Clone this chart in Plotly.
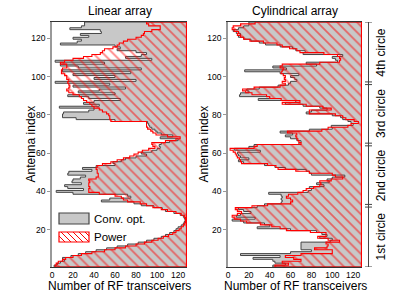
import plotly.graph_objects as go

# ---------------- data ----------------
antenna_index = list(range(1, 129))
n_rf_max = 128

# Linear array: left edge (number of RF transceivers) of each antenna's bar
lin_power = [
    3, 4, 6, 10, 13, 20, 28, 38, 50, 60, 70, 80, 88, 95, 101, 106,
    111, 115, 118, 121, 123, 125, 126, 127, 127, 127, 126, 123, 118, 110, 104, 96,
    90, 84, 72, 68, 66, 60, 45, 35, 35, 36, 35, 35, 36, 35, 42, 44,
    44, 43, 43, 42, 43, 48, 56, 62, 68, 74, 78, 82, 86, 92, 98, 96,
    95, 108, 118, 122, 110, 99, 96, 94, 91, 90, 90, 90, 56, 55, 55, 54,
    52, 48, 45, 40, 38, 36, 33, 30, 28, 26, 20, 16, 14, 16, 17, 16,
    15, 16, 14, 14, 12, 9, 9, 10, 14, 14, 8, 12, 20, 30, 38, 46,
    48, 50, 58, 62, 64, 68, 72, 80, 85, 87, 88, 95, 103, 103, 92, 90,
]
lin_conv = [
    2, 5, 8, 12, 10, 18, 25, 32, 42, 52, 62, 72, 82, 90, 97, 104,
    108, 112, 116, 118, 120, 123, 125, 126, 127, 126, 125, 122, 116, 108, 105, 97,
    85, 78, 47, 55, 75, 72, 20, 4, 30, 15, 12, 28, 19, 20, 27, 32,
    15, 16, 38, 29, 42, 60, 58, 66, 70, 80, 90, 85, 95, 100, 103, 102,
    104, 112, 120, 103, 115, 104, 100, 98, 95, 93, 92, 91, 60, 23, 10, 10,
    11, 35, 40, 7, 45, 30, 40, 65, 35, 15, 60, 25, 45, 70, 20, 55,
    3, 80, 40, 60, 20, 75, 10, 85, 25, 8, 50, 3, 95, 70, 85, 90,
    80, 62, 65, 60, 8, 24, 28, 20, 35, 27, 47, 46, 17, 28, 31, 31,
]

# Cylindrical array
cyl_power = [
    45, 58, 52, 70, 63, 55, 70, 100, 100, 83, 95, 96, 94, 107, 96, 86,
    94, 94, 79, 56, 50, 42, 31, 18, 12, 6, 4, 9, 13, 9, 7, 23,
    38, 60, 62, 60, 56, 58, 67, 72, 75, 82, 88, 89, 88, 99, 110, 103,
    100, 78, 65, 48, 46, 38, 13, 12, 11, 9, 8, 7, 5, 2, 25, 28,
    70, 68, 67, 66, 65, 66, 57, 90, 96, 115, 118, 125, 121, 113, 110, 103,
    78, 78, 99, 91, 75, 52, 69, 51, 40, 37, 23, 17, 14, 25, 50, 55,
    52, 55, 54, 55, 53, 51, 52, 53, 50, 52, 88, 107, 108, 107, 105, 92,
    69, 66, 59, 52, 47, 34, 21, 15, 12, 9, 10, 6, 4, 5, 12, 26,
]
cyl_conv = [
    43, 55, 45, 43, 24, 50, 12, 60, 80, 70, 70, 70, 70, 98, 100, 88,
    95, 90, 85, 60, 28, 40, 35, 15, 4, 26, 8, 12, 22, 15, 10, 28,
    35, 51, 52, 51, 52, 51, 39, 77, 80, 78, 92, 85, 97, 95, 100, 112,
    80, 78, 75, 55, 45, 35, 15, 10, 20, 12, 10, 9, 31, 6, 20, 25,
    68, 70, 66, 60, 55, 62, 50, 78, 100, 99, 120, 118, 115, 110, 108, 100,
    75, 80, 95, 88, 72, 55, 65, 29, 40, 11, 12, 20, 18, 30, 48, 58,
    60, 66, 64, 60, 68, 50, 16, 56, 43, 85, 75, 105, 103, 100, 110, 72,
    74, 65, 62, 50, 36, 30, 22, 15, 10, 12, 8, 5, 10, 15, 20, 20,
]

x_ticks = [0, 20, 40, 60, 80, 100, 120]
y_ticks = [20, 40, 60, 80, 100, 120]
circle_edges = [0.5, 32.5, 64.5, 96.5, 128.5]
circle_labels = ["1st circle", "2nd circle", "3rd circle", "4th circle"]
subplot_titles = ["Linear array", "Cylindrical array"]
series_names = ["Conv. opt.", "Power"]

# ---------------- styles ----------------
GRAY_FILL = "#c8c8c8"
GRAY_LINE = "#454545"
RED = "#ff0000"
FONT = "Liberation Sans, Arial, sans-serif"
W, H = 399, 299


def stair(vals):
    xs, ys = [], []
    for i, v in zip(antenna_index, vals):
        xs += [v, v]
        ys += [i - 0.5, i + 0.5]
    xs += [n_rf_max, n_rf_max, vals[0]]
    ys += [antenna_index[-1] + 0.5, antenna_index[0] - 0.5, antenna_index[0] - 0.5]
    return xs, ys


fig = go.Figure()
for k, (conv, power) in enumerate([(lin_conv, lin_power), (cyl_conv, cyl_power)]):
    xa = "x" if k == 0 else "x2"
    ya = "y" if k == 0 else "y2"
    gx, gy = stair(conv)
    fig.add_trace(go.Scatter(
        x=gx, y=gy, mode="lines", fill="toself", fillcolor=GRAY_FILL,
        line=dict(color=GRAY_LINE, width=1), name=series_names[0],
        xaxis=xa, yaxis=ya, showlegend=False, hoverinfo="skip"))
    px_, py_ = stair(power)
    fig.add_trace(go.Scatter(
        x=px_, y=py_, mode="lines", fill="toself", fillcolor="rgba(0,0,0,0)",
        fillpattern=dict(shape="\\", fgcolor=RED, bgcolor="rgba(0,0,0,0)",
                         size=7, solidity=0.25),
        line=dict(color=RED, width=1.1), name=series_names[1],
        xaxis=xa, yaxis=ya, showlegend=False, hoverinfo="skip"))

# plot area in pixels
L1, R1 = 52, 187
L2, R2 = 228, 362
TOP, BOT = 22, 267
ydom = [1 - BOT / H, 1 - TOP / H]

xcommon = dict(range=[0, 128.5], tickvals=x_ticks, ticks="", showgrid=False,
               zeroline=False, showline=True, linecolor="#333333", linewidth=1,
               mirror=True, automargin=False,
               tickfont=dict(size=8.5, family=FONT, color="black"))
ycommon = dict(range=[0.5, 128.5], tickvals=y_ticks, ticks="outside", ticklen=3,
               tickcolor="#999999", tickwidth=1, showgrid=False, zeroline=False,
               showline=True, linecolor="#999999", linewidth=1.5, automargin=False,
               tickfont=dict(size=8.5, family=FONT, color="black"))

fig.update_layout(
    width=W, height=H, margin=dict(l=0, r=0, t=0, b=0, pad=0, autoexpand=False),
    plot_bgcolor="white", paper_bgcolor="white", showlegend=False,
    font=dict(family=FONT, size=12, color="black"),
    xaxis=dict(domain=[L1 / W, R1 / W], anchor="y", **xcommon),
    yaxis=dict(domain=ydom, anchor="x", **ycommon),
    xaxis2=dict(domain=[L2 / W, R2 / W], anchor="y2", **xcommon),
    yaxis2=dict(domain=ydom, anchor="x2", **ycommon),
)

ann = []
shapes = []


def text(t, x, y, size=12, angle=0, xref="paper", yref="paper", xanchor="center"):
    return dict(text=t, x=x, y=y, xref=xref, yref=yref, textangle=angle,
                xanchor=xanchor, yanchor="middle", showarrow=False,
                font=dict(size=size, family=FONT, color="black"))


for k, (l, r) in enumerate([(L1, R1), (L2, R2)]):
    cx = (l + r) / 2 / W
    ann.append(text(subplot_titles[k], cx, 1 - 11 / H))
    ann.append(text("Number of RF transceivers", cx, 1 - 286 / H))
    ax_x = 30 if k == 0 else 203
    ann.append(text("Antenna index", ax_x / W, 1 - (TOP + BOT) / 2 / H, angle=-90))

# circle bracket on the right of the cylindrical panel
bx = 368.5 / W
tx0, tx1 = 365 / W, 372 / W
shapes.append(dict(type="line", xref="paper", yref="y2", x0=bx, x1=bx,
                   y0=circle_edges[0], y1=circle_edges[-1],
                   line=dict(color="#444444", width=1)))
for e in circle_edges:
    if e in (circle_edges[0], circle_edges[-1]):
        offs = [0]
    else:
        offs = [-0.7, 0.7]
    for o in offs:
        shapes.append(dict(type="line", xref="paper", yref="y2", x0=tx0, x1=tx1,
                           y0=e + o, y1=e + o, line=dict(color="#444444", width=1)))
for lab, a, b in zip(circle_labels, circle_edges[:-1], circle_edges[1:]):
    ann.append(text(lab, 381 / W, (a + b) / 2, angle=-90, yref="y2"))


# manual legend (inside linear-array panel)
def pxbox(x0, y0, x1, y1):
    return dict(x0=x0 / W, x1=x1 / W, y0=1 - y1 / H, y1=1 - y0 / H)


lg_l, lg_r = 59, 89
box1 = (213, 224)
box2 = (232, 242)
shapes.append(dict(type="rect", xref="paper", yref="paper", fillcolor=GRAY_FILL,
                   line=dict(color=GRAY_LINE, width=1.2),
                   **pxbox(lg_l, box1[0], lg_r, box1[1])))
shapes.append(dict(type="rect", xref="paper", yref="paper", fillcolor="white",
                   line=dict(color=RED, width=1.2),
                   **pxbox(lg_l, box2[0], lg_r, box2[1])))
hh = box2[1] - box2[0]
step = 6
xs0 = lg_l - hh
while xs0 < lg_r:
    ax0, ay0 = xs0, box2[0]
    ax1, ay1 = xs0 + hh, box2[1]
    if ax0 < lg_l:
        ay0 += lg_l - ax0
        ax0 = lg_l
    if ax1 > lg_r:
        ay1 -= ax1 - lg_r
        ax1 = lg_r
    if ax1 > ax0:
        shapes.append(dict(type="line", xref="paper", yref="paper",
                           x0=ax0 / W, x1=ax1 / W, y0=1 - ay0 / H, y1=1 - ay1 / H,
                           line=dict(color=RED, width=1)))
    xs0 += step
ann.append(text(series_names[0], 92 / W, 1 - 218.5 / H, size=11.5, xanchor="left"))
ann.append(text(series_names[1], 92 / W, 1 - 237 / H, size=11.5, xanchor="left"))

fig.update_layout(annotations=ann, shapes=shapes)
fig.write_html(
    "out.html",
    config={"displayModeBar": False},
    post_script="document.documentElement.style.margin='0';"
                "document.body.style.margin='0';"
                "document.body.style.overflow='hidden';",
)
